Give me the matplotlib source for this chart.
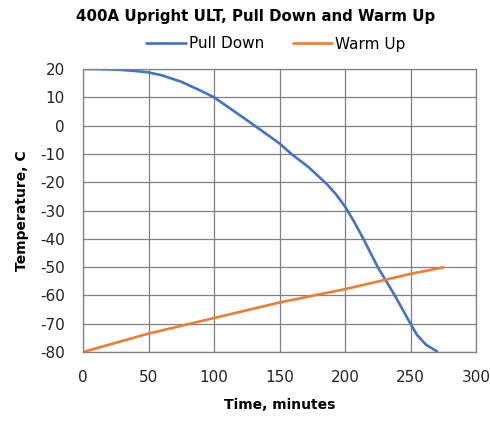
import numpy as np
import matplotlib.pyplot as plt

# values
pull_time = [0, 10, 25, 40, 50, 60, 75, 90, 100, 115, 131, 150, 159, 172, 186, 193, 200,
             207, 214, 225, 238, 250, 255, 262, 271]
pull_temp = [20, 20, 19.8, 19.3, 18.8, 17.8, 15.5, 12.3, 10, 5.2, 0, -6.3, -10, -14.6, -20.6, -24.2, -28.6,
             -34, -40, -50, -60, -70, -74, -77.5, -80]

warm_time = [0, 50, 100, 150, 200, 250, 276]
warm_temp = [-80, -73.5, -68, -62.5, -57.8, -52.4, -50]

x_ticks = [0, 50, 100, 150, 200, 250, 300]
y_ticks = [20, 10, 0, -10, -20, -30, -40, -50, -60, -70, -80]

plt.rcParams['font.family'] = ['DejaVu Sans']
plt.rcParams['axes.unicode_minus'] = False

fig = plt.figure(figsize=(4.9, 4.24), dpi=100)
ax = fig.add_axes([83/490, 1 - 352/424, (476-83)/490, (352-69)/424])

ax.plot(pull_time, pull_temp, color='#4472C4', lw=1.9, label='Pull Down', solid_capstyle='butt')
ax.plot(warm_time, warm_temp, color='#ED7D31', lw=1.9, label='Warm Up', solid_capstyle='butt')

ax.set_xlim(0, 300)
ax.set_ylim(-80, 20)
ax.set_xticks(x_ticks)
ax.set_yticks(y_ticks)
ax.grid(True, color='#808080', lw=0.9)
ax.set_axisbelow(True)
for s in ax.spines.values():
    s.set_color('#808080')
    s.set_linewidth(0.9)
ax.tick_params(length=0, labelsize=11, colors='#222222', pad=13)
for lab in ax.get_xticklabels():
    lab.set_clip_on(False)

ax.set_xlabel('Time, minutes', fontsize=10, fontweight='bold', labelpad=9)
ax.set_ylabel('Temperature, C', fontsize=10, fontweight='bold', labelpad=8)

fig.text(256/490, 1 - 17/424, '400A Upright ULT, Pull Down and Warm Up',
         ha='center', va='center', fontsize=10.8, fontweight='bold')
ax.legend(loc='center', bbox_to_anchor=(0.49, 1 + 25/283), ncol=2, frameon=False,
          fontsize=11, handlelength=2.7, handletextpad=0.15, columnspacing=1.8)

fig.savefig('out.png', dpi=100)
